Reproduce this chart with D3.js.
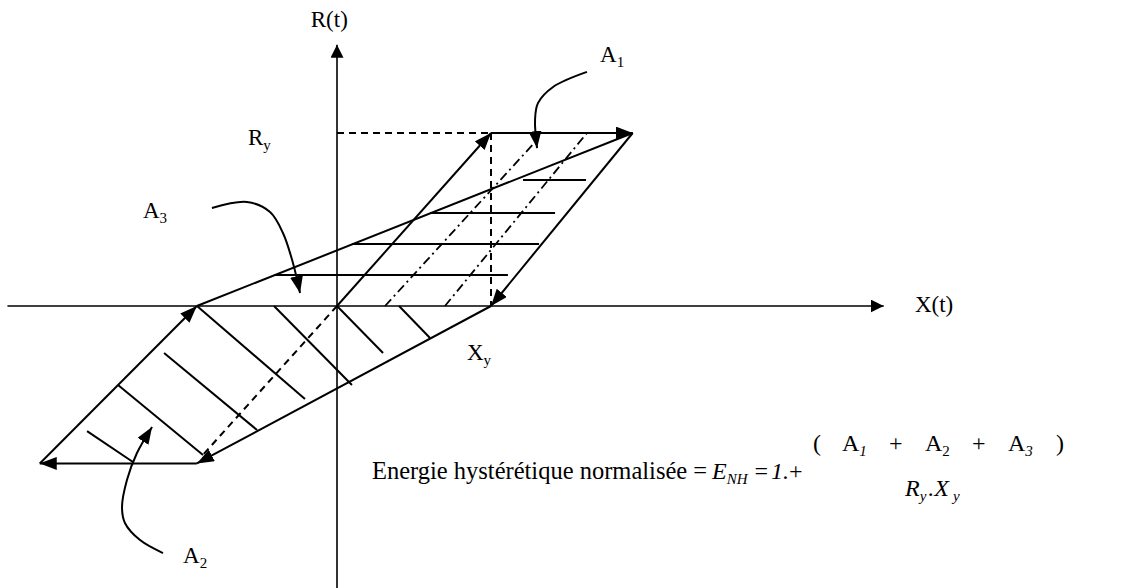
<!DOCTYPE html>
<html>
<head>
<meta charset="utf-8">
<script src="https://cdn.jsdelivr.net/npm/d3@7"></script>
<style>
  body { margin: 0; background: #fff; }
  text { font-family: "Liberation Serif", "Times New Roman", serif; fill: #000; }
</style>
</head>
<body>
<div id="chart"></div>
<script>
// All coordinates are in units of the yield point: X / Xy and R / Ry
const xAxisExtent = [-2.14, 3.55];
const rAxisExtent = [-1.63, 1.51];

// hysteresis loop, vertex by vertex (each leg drawn with an arrow)
const loopPoints = [[0, 0], [1, 1], [1.92, 1], [1, 0], [-0.91, -0.91], [-1.93, -0.91], [-0.91, 0]];
// closing leg from the last vertex back up to the right tip
const closingLeg = [[-0.91, 0], [1.92, 1]];

// dashed guides (yield projections and elastic unloading)
const dashedLines = [
  [[0, 1], [1, 1]],
  [[1, 1], [1, 0]],
  [[0, 0], [-0.87, -0.86]]
];

// dash-dot lines inside A1
const dashDotLines = [
  [[0.312, 0], [1.299, 0.96]],
  [[0.701, 0], [1.623, 1]]
];

// horizontal hatching of A1 / A3
const hatchUpper = [
  [[1.208, 0.728], [1.617, 0.728]],
  [[0.604, 0.538], [1.416, 0.538]],
  [[0.097, 0.358], [1.312, 0.358]],
  [[-0.409, 0.179], [1.110, 0.179]]
];

// diagonal hatching of A2
const hatchLower = [
  [[-1.623, -0.723], [-1.325, -0.902]],
  [[-1.422, -0.457], [-0.870, -0.861]],
  [[-1.123, -0.272], [-0.519, -0.717]],
  [[-0.909, 0], [-0.208, -0.538]],
  [[-0.409, 0], [0.097, -0.457]],
  [[0, 0], [0.299, -0.272]],
  [[0.403, 0], [0.604, -0.185]]
];

// curved call-out arrows
const callouts = [
  [[1.623, 1.353], [1.403, 1.266], [1.305, 1.173], [1.286, 1.075], [1.299, 0.913]],
  [[-0.812, 0.566], [-0.584, 0.601], [-0.435, 0.543], [-0.351, 0.422], [-0.286, 0.249], [-0.240, 0.075]],
  [[-1.130, -1.428], [-1.279, -1.353], [-1.377, -1.254], [-1.396, -1.162], [-1.364, -1.006], [-1.299, -0.850], [-1.201, -0.699]]
];

// labels: [main, subscript, x, r, anchor]
const labels = [
  ["R(t)", "", -0.05, 1.613, "middle"],
  ["X(t)", "", 3.753, -0.035, "start"],
  ["A", "1", 1.708, 1.410, "start"],
  ["R", "y", -0.578, 0.931, "start"],
  ["A", "3", -1.260, 0.509, "start"],
  ["X", "y", 0.844, -0.312, "start"],
  ["A", "2", -1.0, -1.486, "start"]
];

const formulaText = "Energie hystérétique normalisée =";
const formulaAnchor = [0.227, -1.0];
// numerator pieces: [text, subscript, italic subscript]
const numeratorTerms = [["(", "", false], ["A", "1", true], ["+", "", false], ["A", "2", false],
  ["+", "", false], ["A", "3", true], [")", "", false]];
const numeratorOffsets = [441, 470, 517, 553, 600, 636, 684];

const width = 1128, height = 588;

const x = d3.scaleLinear().domain([0, 1]).range([337, 491]);
const y = d3.scaleLinear().domain([0, 1]).range([306, 133]);

const svg = d3.select("#chart")
  .append("svg")
  .attr("width", width)
  .attr("height", height);

const defs = svg.append("defs");
function addMarker(id, len, wid) {
  defs.append("marker")
    .attr("id", id)
    .attr("markerUnits", "userSpaceOnUse")
    .attr("viewBox", `0 0 ${len} ${wid}`)
    .attr("markerWidth", len)
    .attr("markerHeight", wid)
    .attr("refX", len)
    .attr("refY", wid / 2)
    .attr("orient", "auto")
    .append("path")
    .attr("d", `M0,0L${len},${wid / 2}L0,${wid}Z`)
    .attr("fill", "#000");
}
addMarker("arrow", 17, 13);
addMarker("axisArrow", 13, 13);

const line = d3.line().x(d => x(d[0])).y(d => y(d[1]));
const curve = d3.line().x(d => x(d[0])).y(d => y(d[1])).curve(d3.curveCatmullRom.alpha(0.5));

// axes
svg.append("line")
  .attr("x1", x(xAxisExtent[0])).attr("y1", y(0))
  .attr("x2", x(xAxisExtent[1])).attr("y2", y(0))
  .attr("stroke", "#000").attr("stroke-width", 1.6)
  .attr("marker-end", "url(#axisArrow)");

svg.append("line")
  .attr("x1", x(0)).attr("y1", y(rAxisExtent[0]))
  .attr("x2", x(0)).attr("y2", y(rAxisExtent[1]))
  .attr("stroke", "#000").attr("stroke-width", 1.6)
  .attr("marker-end", "url(#axisArrow)");

// dashed and dash-dot guides
svg.selectAll(".dashed")
  .data(dashedLines)
  .enter().append("path")
  .attr("class", "dashed")
  .attr("d", line)
  .attr("fill", "none").attr("stroke", "#000").attr("stroke-width", 2)
  .attr("stroke-dasharray", "7,5");

svg.selectAll(".dashdot")
  .data(dashDotLines)
  .enter().append("path")
  .attr("class", "dashdot")
  .attr("d", line)
  .attr("fill", "none").attr("stroke", "#000").attr("stroke-width", 1.8)
  .attr("stroke-dasharray", "9,4,2,4");

// hatching
svg.selectAll(".hatch")
  .data(hatchUpper.concat(hatchLower))
  .enter().append("path")
  .attr("class", "hatch")
  .attr("d", line)
  .attr("fill", "none").attr("stroke", "#000").attr("stroke-width", 2);

// loop legs
const legs = d3.pairs(loopPoints);
svg.selectAll(".leg")
  .data(legs)
  .enter().append("path")
  .attr("class", "leg")
  .attr("d", line)
  .attr("fill", "none").attr("stroke", "#000").attr("stroke-width", 2)
  .attr("marker-end", "url(#arrow)");

svg.append("path")
  .attr("d", line(closingLeg))
  .attr("fill", "none").attr("stroke", "#000").attr("stroke-width", 2);

// call-outs
svg.selectAll(".callout")
  .data(callouts)
  .enter().append("path")
  .attr("class", "callout")
  .attr("d", curve)
  .attr("fill", "none").attr("stroke", "#000").attr("stroke-width", 2)
  .attr("marker-end", "url(#arrow)");

// labels
const lab = svg.selectAll(".label")
  .data(labels)
  .enter().append("text")
  .attr("class", "label")
  .attr("x", d => x(d[2]))
  .attr("y", d => y(d[3]))
  .attr("text-anchor", d => d[4])
  .attr("font-size", 23);
lab.append("tspan").text(d => d[0]);
lab.append("tspan")
  .attr("font-size", 15)
  .attr("dy", 5)
  .text(d => d[1]);

// formula
const fx = x(formulaAnchor[0]), fy = y(formulaAnchor[1]);
svg.append("text")
  .attr("x", fx).attr("y", fy)
  .attr("font-size", 24.5)
  .text(formulaText);

const f = svg.append("g").attr("transform", `translate(${fx},${fy})`);
const lhs = f.append("text").attr("x", 340).attr("font-size", 24);
lhs.append("tspan").attr("font-style", "italic").text("E");
lhs.append("tspan").attr("font-style", "italic").attr("font-size", 15).attr("dy", 5).text("NH");
lhs.append("tspan").attr("dy", -5).attr("dx", 7).text("=");
lhs.append("tspan").attr("dx", 3).attr("font-style", "italic").text("1.");
lhs.append("tspan").text("+");

const num = f.selectAll(".num")
  .data(numeratorTerms)
  .enter().append("text")
  .attr("class", "num")
  .attr("x", (d, i) => numeratorOffsets[i])
  .attr("y", -28)
  .attr("font-size", 24);
num.append("tspan").text(d => d[0]);
num.append("tspan")
  .attr("font-size", 15)
  .attr("font-style", d => d[2] ? "italic" : "normal")
  .attr("dy", 5)
  .text(d => d[1]);

const den = f.append("text").attr("x", 533).attr("y", 17).attr("font-size", 24)
  .attr("font-style", "italic");
den.append("tspan").text("R");
den.append("tspan").attr("font-size", 15).attr("dy", 5).text("y");
den.append("tspan").attr("dy", -5).attr("dx", 2).text(".X");
den.append("tspan").attr("font-size", 15).attr("dy", 5).attr("dx", 4).text("y");
</script>
</body>
</html>
